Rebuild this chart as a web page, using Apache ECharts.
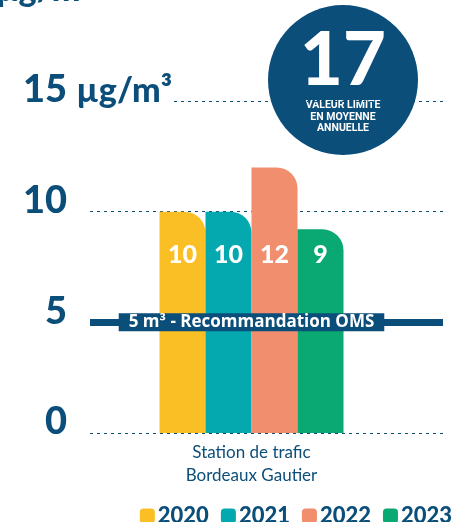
<!DOCTYPE html>
<html>
<head>
<meta charset="utf-8">
<script src="https://cdn.jsdelivr.net/npm/echarts@6/dist/echarts.min.js"></script>
<style>
  html, body { margin: 0; padding: 0; background: #fff; }
  #main { width: 459px; height: 522px; }
</style>
</head>
<body>
<div id="main"></div>
<script>
// données
const categories = ['Station de trafic\nBordeaux Gautier'];
const years = ['2020', '2021', '2022', '2023'];
const values = [10, 10, 12, 9.2];
const colors = ['#fbbf26', '#03a9ae', '#f08e6e', '#0aa872'];
const yTicks = [0, 5, 10, 15];
const omsValue = 5;
const limitValue = 17;
const navy = '#0c4e7a';

const myChart = echarts.init(document.getElementById('main'));

const series = years.map((y, i) => ({
  name: y,
  type: 'bar',
  xAxisIndex: 1,
  yAxisIndex: 1,
  barWidth: 46,
  barGap: '0%',
  itemStyle: { color: colors[i], borderRadius: [0, 21, 0, 0] },
  label: {
    show: true,
    position: 'insideBottom',
    distance: 166,
    formatter: p => Math.round(p.value),
    color: '#fff',
    fontFamily: 'Lato',
    fontWeight: 900,
    fontSize: 25
  },
  data: [values[i]]
}));

// lignes 15 et OMS
series[0].markLine = {
  silent: true,
  animation: false,
  symbol: ['none', 'none'],
  data: [
    [{ x: 174, yAxis: yTicks[3] }, { x: 445, yAxis: yTicks[3],
      lineStyle: { color: navy, width: 1, type: [3, 4] }, label: { show: false } }],
    [{ x: 90, yAxis: omsValue }, { x: 443, yAxis: omsValue,
      lineStyle: { color: navy, width: 7, type: 'solid' }, label: { show: false } }],
    {
      yAxis: omsValue,
      lineStyle: { color: 'rgba(0,0,0,0)', width: 0 },
      label: {
        show: true,
        position: 'insideMiddle',
        formatter: '5 m³ - Recommandation OMS',
        color: '#fff',
        fontFamily: 'Open Sans',
        fontWeight: 'bold',
        fontSize: 17,
        backgroundColor: navy,
        padding: [1, 10, 0, 10]
      }
    }
  ]
};

const option = {
  animation: false,
  title: {
    text: 'µg/m³',
    left: -4,
    top: -27,
    padding: 0,
    textStyle: { color: navy, fontFamily: 'Lato', fontWeight: 900, fontSize: 34 }
  },
  legend: {
    data: years,
    top: 500,
    right: 2,
    icon: 'roundRect',
    itemWidth: 15,
    itemHeight: 15,
    itemGap: 12,
    textStyle: { color: navy, fontFamily: 'Lato', fontWeight: 900, fontSize: 22, padding: [0, 0, 0, -2] }
  },
  grid: [
    { left: 90, right: 14, top: 101, bottom: 89 },
    { left: 58, right: 14, top: 101, bottom: 89 }
  ],
  xAxis: [
    { gridIndex: 0, type: 'category', data: categories, show: false },
    {
      gridIndex: 1,
      type: 'category',
      data: categories,
      axisLine: { show: false },
      axisTick: { show: false },
      axisLabel: { color: navy, fontFamily: 'Lato', fontSize: 17, lineHeight: 23, margin: 8 }
    }
  ],
  yAxis: [
    {
      gridIndex: 0,
      type: 'value',
      min: yTicks[0],
      max: yTicks[3],
      interval: 5,
      name: 'µg/m³',
      nameLocation: 'end',
      nameGap: 0,
      nameMoveOverlap: false,
      nameTextStyle: {
        color: navy, fontFamily: 'Lato', fontWeight: 900, fontSize: 34,
        align: 'right', verticalAlign: 'bottom', padding: [0, -82, -7, 0]
      },
      axisLine: { show: false },
      axisTick: { show: false },
      axisLabel: {
        color: navy, fontFamily: 'Lato', fontWeight: 900, fontSize: 38,
        margin: 23, verticalAlign: 'bottom', padding: [0, 0, -8, 0]
      },
      splitLine: {
        lineStyle: { color: [navy, 'rgba(0,0,0,0)', navy, 'rgba(0,0,0,0)'], width: 1, type: [3, 4] }
      }
    },
    { gridIndex: 1, type: 'value', min: yTicks[0], max: yTicks[3], interval: 5, show: false, splitLine: { show: false } }
  ],
  graphic: [
    {
      type: 'group',
      z: 100,
      children: [
        { type: 'circle', shape: { cx: 343, cy: 80, r: 75 }, style: { fill: navy } },
        {
          type: 'text', x: 343, y: 61,
          style: { text: String(limitValue), fill: '#fff', fontFamily: 'Lato', fontWeight: 900, fontSize: 74,
            align: 'center', verticalAlign: 'middle' }
        },
        {
          type: 'text', x: 343, y: 100,
          style: { text: 'VALEUR LIMITE\nEN MOYENNE\nANNUELLE', fill: '#fff', fontFamily: 'Roboto',
            fontWeight: 'bold', fontSize: 10.5, lineHeight: 11.5, align: 'center', verticalAlign: 'top' }
        }
      ]
    }
  ],
  series: series
};

myChart.setOption(option);
</script>
</body>
</html>
